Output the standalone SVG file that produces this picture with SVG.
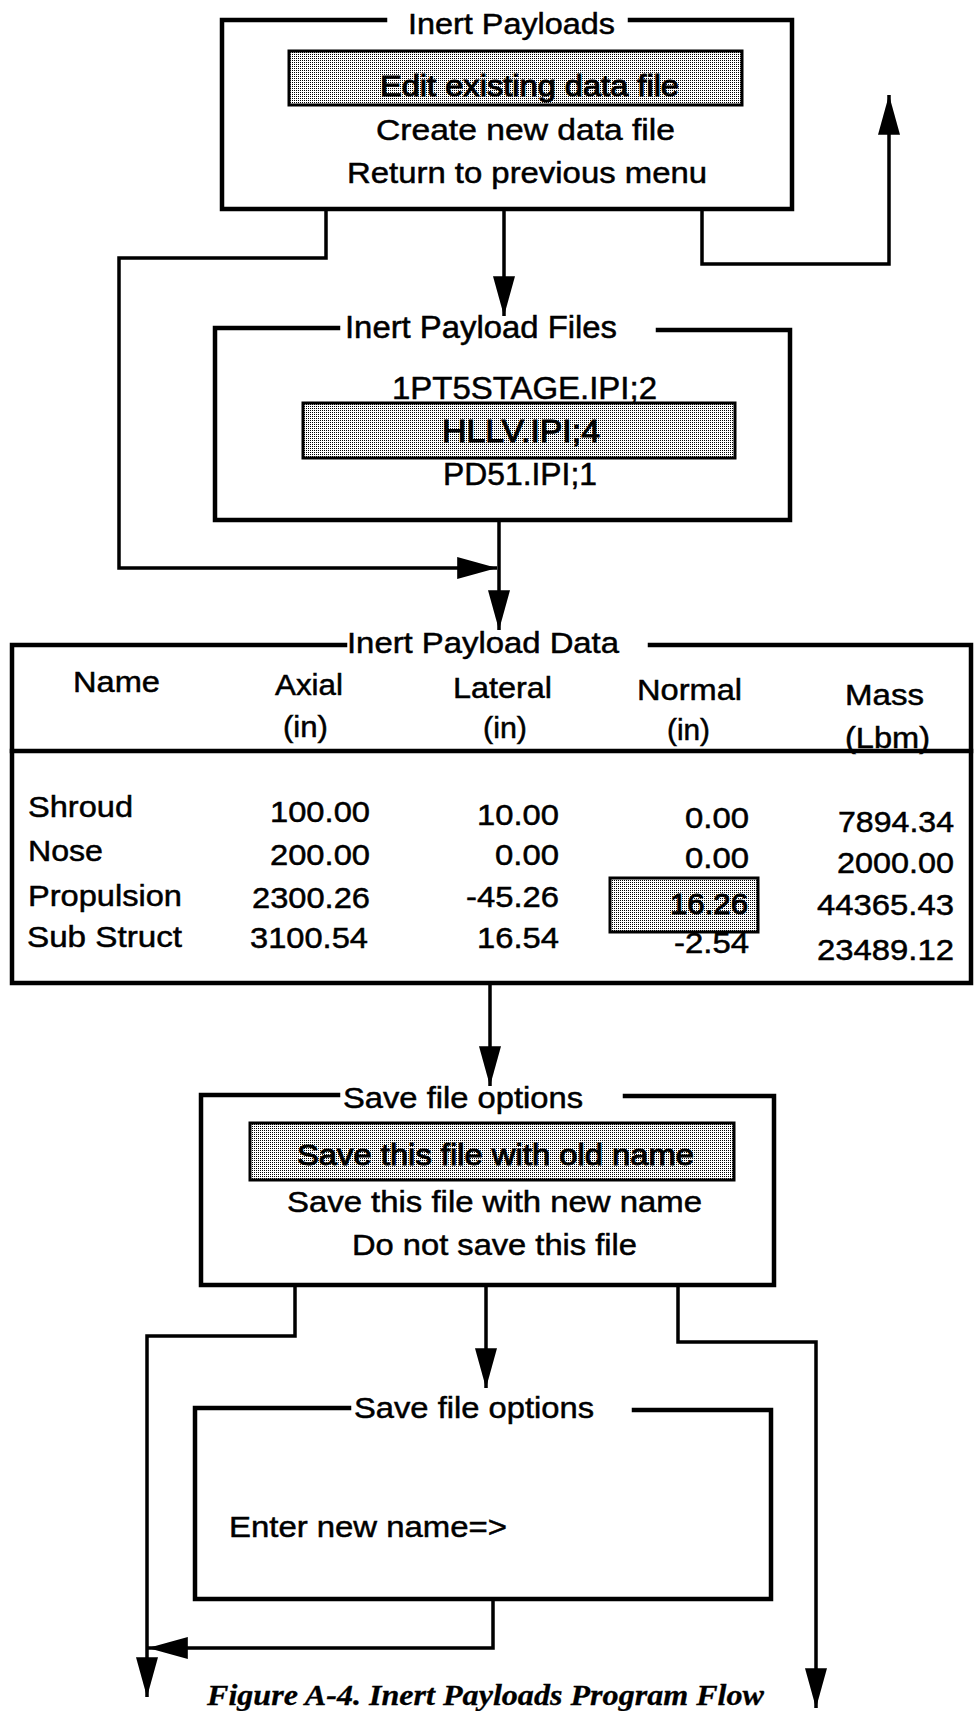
<svg xmlns="http://www.w3.org/2000/svg" width="977" height="1711" viewBox="0 0 977 1711">
<style>
.box{fill:none;stroke:#000;stroke-width:4.5;stroke-linejoin:miter;stroke-linecap:square}
.hl{fill:url(#stip);stroke:#000;stroke-width:3}
.con{fill:none;stroke:#000;stroke-width:3.5;stroke-linejoin:miter}
.arr{marker-end:url(#ah)}
text{font-family:"Liberation Sans",Arial,Helvetica,sans-serif;font-size:30px;fill:#000;stroke:#000;stroke-width:0.5}
.f31{font-size:31px}
.hlt{stroke-width:1}
.cap{font-family:"Liberation Serif","Times New Roman",serif;font-weight:bold;font-style:italic;font-size:29px;stroke-width:0.3}
</style>
<defs>
<pattern id="stip" width="2" height="2" patternUnits="userSpaceOnUse">
<rect width="2" height="2" fill="#fff"/>
<rect width="1" height="1" fill="#000"/>
</pattern>
<marker id="ah" markerUnits="userSpaceOnUse" markerWidth="40" markerHeight="22" viewBox="0 0 38 21" refX="38" refY="10.5" orient="auto">
<path d="M0,0 L38,10.5 L0,21 Z" fill="#000"/>
</marker>
</defs>

<g id="connectors">
<path class="con arr" d="M504,211 V316"/>
<path class="con arr" d="M326,211 V258 H119 V568 H497"/>
<path class="con arr" d="M702,211 V264 H889 V95"/>
<path class="con arr" d="M499,522 V630"/>
<path class="con arr" d="M490,985 V1086"/>
<path class="con arr" d="M295,1287 V1336 H147 V1697"/>
<path class="con arr" d="M486,1287 V1388"/>
<path class="con arr" d="M678,1287 V1342 H816 V1708"/>
<path class="con arr" d="M493,1601 V1648 H148"/>
</g>

<g id="inert-payloads">
<path class="box" d="M385,20 H222 V209 H792 V20 H630"/>
<text x="408" y="34" textLength="207" lengthAdjust="spacingAndGlyphs">Inert Payloads</text>
<rect class="hl" x="289" y="51" width="453" height="54"/>
<text class="hlt" x="380" y="96" textLength="299" lengthAdjust="spacingAndGlyphs">Edit existing data file</text>
<text x="376" y="140" textLength="299" lengthAdjust="spacingAndGlyphs">Create new data file</text>
<text x="347" y="183" textLength="360" lengthAdjust="spacingAndGlyphs">Return to previous menu</text>
</g>

<g id="inert-payload-files">
<path class="box" d="M338,328 H215 V520 H790 V330 H658"/>
<text class="f31" x="345" y="338" textLength="272" lengthAdjust="spacingAndGlyphs">Inert Payload Files</text>
<rect class="hl" x="303" y="403" width="432" height="55"/>
<text class="f31" x="392" y="399" textLength="265" lengthAdjust="spacingAndGlyphs">1PT5STAGE.IPI;2</text>
<text class="f31 hlt" x="442" y="442" textLength="158" lengthAdjust="spacingAndGlyphs">HLLV.IPI;4</text>
<text class="f31" x="443" y="485" textLength="154" lengthAdjust="spacingAndGlyphs">PD51.IPI;1</text>
</g>

<g id="inert-payload-data">
<path class="box" d="M345,645 H12 V983 H971 V645 H650"/>
<path class="box" d="M12,751 H971"/>
<text x="347" y="653" textLength="272" lengthAdjust="spacingAndGlyphs">Inert Payload Data</text>
<text x="73" y="692" textLength="87" lengthAdjust="spacingAndGlyphs">Name</text>
<text x="275" y="695" textLength="68" lengthAdjust="spacingAndGlyphs">Axial</text>
<text x="283" y="737" textLength="45" lengthAdjust="spacingAndGlyphs">(in)</text>
<text x="453" y="698" textLength="99" lengthAdjust="spacingAndGlyphs">Lateral</text>
<text x="483" y="738" textLength="44" lengthAdjust="spacingAndGlyphs">(in)</text>
<text x="637" y="700" textLength="105" lengthAdjust="spacingAndGlyphs">Normal</text>
<text x="667" y="740" textLength="43" lengthAdjust="spacingAndGlyphs">(in)</text>
<text x="845" y="705" textLength="79" lengthAdjust="spacingAndGlyphs">Mass</text>
<text x="845" y="748" textLength="85" lengthAdjust="spacingAndGlyphs">(Lbm)</text>

<text x="28" y="817" textLength="105" lengthAdjust="spacingAndGlyphs">Shroud</text>
<text x="28" y="861" textLength="75" lengthAdjust="spacingAndGlyphs">Nose</text>
<text x="28" y="906" textLength="154" lengthAdjust="spacingAndGlyphs">Propulsion</text>
<text x="27" y="947" textLength="155" lengthAdjust="spacingAndGlyphs">Sub Struct</text>

<text x="270" y="822" textLength="100" lengthAdjust="spacingAndGlyphs">100.00</text>
<text x="270" y="865" textLength="100" lengthAdjust="spacingAndGlyphs">200.00</text>
<text x="252" y="908" textLength="118" lengthAdjust="spacingAndGlyphs">2300.26</text>
<text x="250" y="948" textLength="118" lengthAdjust="spacingAndGlyphs">3100.54</text>

<text x="477" y="825" textLength="82" lengthAdjust="spacingAndGlyphs">10.00</text>
<text x="495" y="865" textLength="64" lengthAdjust="spacingAndGlyphs">0.00</text>
<text x="466" y="907" textLength="93" lengthAdjust="spacingAndGlyphs">-45.26</text>
<text x="477" y="948" textLength="82" lengthAdjust="spacingAndGlyphs">16.54</text>

<rect class="hl" x="610" y="878" width="148" height="54"/>
<text x="685" y="828" textLength="64" lengthAdjust="spacingAndGlyphs">0.00</text>
<text x="685" y="868" textLength="64" lengthAdjust="spacingAndGlyphs">0.00</text>
<text class="hlt" x="670" y="914" textLength="78" lengthAdjust="spacingAndGlyphs">16.26</text>
<text x="674" y="953" textLength="75" lengthAdjust="spacingAndGlyphs">-2.54</text>

<text x="838" y="832" textLength="116" lengthAdjust="spacingAndGlyphs">7894.34</text>
<text x="837" y="873" textLength="117" lengthAdjust="spacingAndGlyphs">2000.00</text>
<text x="817" y="915" textLength="137" lengthAdjust="spacingAndGlyphs">44365.43</text>
<text x="817" y="960" textLength="137" lengthAdjust="spacingAndGlyphs">23489.12</text>
</g>

<g id="save-file-options">
<path class="box" d="M338,1095 H201 V1285 H774 V1096 H625"/>
<text x="343" y="1108" textLength="240" lengthAdjust="spacingAndGlyphs">Save file options</text>
<rect class="hl" x="250" y="1123" width="484" height="57"/>
<text class="hlt" x="297" y="1165" textLength="397" lengthAdjust="spacingAndGlyphs">Save this file with old name</text>
<text x="287" y="1212" textLength="415" lengthAdjust="spacingAndGlyphs">Save this file with new name</text>
<text x="352" y="1255" textLength="285" lengthAdjust="spacingAndGlyphs">Do not save this file</text>
</g>

<g id="save-new-name">
<path class="box" d="M349,1408 H195 V1599 H771 V1410 H634"/>
<text x="354" y="1418" textLength="240" lengthAdjust="spacingAndGlyphs">Save file options</text>
<text x="229" y="1537" textLength="278" lengthAdjust="spacingAndGlyphs">Enter new name=&gt;</text>
</g>

<g id="caption">
<text class="cap" x="207" y="1705" textLength="557" lengthAdjust="spacingAndGlyphs">Figure A-4.  Inert Payloads Program Flow</text>
</g>
</svg>
